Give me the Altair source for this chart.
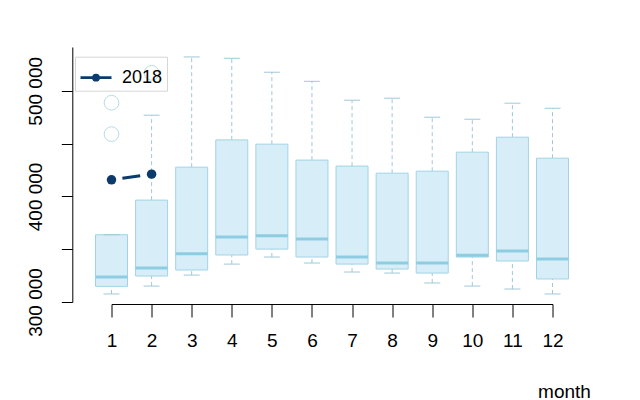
import altair as alt
import pandas as pd

# ---- data ----
months = [1, 2, 3, 4, 5, 6, 7, 8, 9, 10, 11, 12]
whisker_low = [307600, 315100, 325500, 335900, 342600, 336900, 328400, 327400, 318000, 315100, 312300, 307600]
q1 = [314800, 324600, 330300, 344500, 350100, 342600, 335900, 331200, 327400, 342600, 338800, 321800]
median = [323600, 332200, 345700, 361500, 362700, 359600, 342600, 336900, 336900, 344300, 348200, 340700]
q3 = [363700, 396500, 427700, 453500, 449500, 434400, 428700, 422000, 423900, 441900, 456100, 436200]
whisker_high = [363700, 476900, 532100, 530800, 517600, 509000, 491100, 493000, 475000, 473100, 488300, 483500]

outlier_months = [1, 1, 2]
outlier_values = [488700, 459000, 517000]

series_name = "2018"
series_months = [1, 2]
series_values = [415700, 421100]

y_ticks = [300000, 350000, 400000, 450000, 500000]

# ---- styles ----
FONT = "Liberation Sans"
BOX_FILL = "#d7eef8"
BOX_STROKE = "#a2d3e5"
MEDIAN_COLOR = "#8dcde2"
WHISKER = "#a0c8d8"
OUTLIER = "#b9dbe8"
NAVY = "#0c3b6b"

box_df = pd.DataFrame({"month": months, "lo": whisker_low, "q1": q1, "med": median,
                       "q3": q3, "hi": whisker_high})
out_df = pd.DataFrame({"month": outlier_months, "v": outlier_values})
ser_df = pd.DataFrame({"month": series_months, "v": series_values,
                       "series": [series_name] * len(series_months)})

xscale = alt.Scale(domain=[1, 12], nice=False, zero=False, padding=0)
yscale = alt.Scale(domain=[300000, 541500], nice=False, zero=False, padding=0)

xaxis = alt.Axis(values=months, offset=2, tickSize=13, tickColor="black", tickWidth=1,
                 domainColor="black", domainWidth=1, labelFontSize=19, labelPadding=14,
                 labelColor="black", labelFont=FONT, labelFlush=False, labelOverlap=False,
                 format="d", grid=False, title="month", titleFont=FONT, titleFontSize=19,
                 titleFontWeight="normal", titleColor="black", titleX=452.5, titleY=93,
                 titleAlign="center", titleBaseline="alphabetic")

yaxis = alt.Axis(values=y_ticks, offset=39.2, tickSize=11, tickColor="black", tickWidth=1,
                 domainColor="black", domainWidth=1, labelFontSize=19, labelPadding=19.6,
                 labelColor="black", labelFont=FONT, labelFlush=False, labelOverlap=False,
                 labelAngle=270, labelAlign="center", labelBaseline="alphabetic",
                 labelExpr="datum.value % 100000 == 0 ? floor(datum.value / 1000) + ' 000' : ''",
                 grid=False, title="")


def X():
    return alt.X("month:Q", scale=xscale, axis=xaxis)


def Y(field):
    return alt.Y(f"{field}:Q", scale=yscale, axis=yaxis)


base = alt.Chart(box_df)

upper_whisker = base.mark_rule(color=WHISKER, strokeWidth=1, strokeDash=[4, 3]).encode(
    x=X(), y=Y("q3"), y2="hi:Q")
lower_whisker = base.mark_rule(color=WHISKER, strokeWidth=1, strokeDash=[4, 3]).encode(
    x=X(), y=Y("lo"), y2="q1:Q")
boxes = base.mark_bar(size=32, fill=BOX_FILL, stroke=BOX_STROKE, strokeWidth=1).encode(
    x=X(), y=Y("q1"), y2="q3:Q")
medians = base.mark_tick(orient="horizontal", size=32, thickness=3, color=MEDIAN_COLOR,
                         opacity=1).encode(x=X(), y=Y("med"))
cap_hi = base.mark_tick(orient="horizontal", size=16, thickness=1, color=WHISKER,
                        opacity=1).encode(x=X(), y=Y("hi"))
cap_lo = base.mark_tick(orient="horizontal", size=16, thickness=1, color=WHISKER,
                        opacity=1).encode(x=X(), y=Y("lo"))

outliers = alt.Chart(out_df).mark_point(shape="circle", size=216, filled=False,
                                        stroke=OUTLIER, strokeWidth=1, opacity=1).encode(
    x=X(), y=Y("v"))

line = alt.Chart(ser_df).mark_line(color=NAVY, strokeWidth=3,
                                   strokeDash=[0, 11, 18, 100]).encode(x=X(), y=Y("v"))

legend_symbol = "M-1,0L1,0M-0.16,0A0.16,0.16,0,1,1,0.16,0A0.16,0.16,0,1,1,-0.16,0Z"

points = alt.Chart(ser_df).mark_point(shape="circle", size=90, filled=True, opacity=1).encode(
    x=X(), y=Y("v"),
    color=alt.Color("series:N", scale=alt.Scale(domain=[series_name], range=[NAVY]),
                    legend=alt.Legend(orient="none", legendX=-36.5, legendY=9.7, title="",
                                      padding=4, strokeColor="#d6d6d6",
                                      cornerRadius=0, symbolType=legend_symbol,
                                      symbolSize=961, symbolStrokeWidth=2.8,
                                      symbolFillColor=NAVY, symbolStrokeColor=NAVY,
                                      labelFontSize=18, labelFont=FONT, labelColor="black",
                                      labelOffset=9)))

chart = alt.layer(upper_whisker, lower_whisker, boxes, medians, cap_hi, cap_lo,
                  outliers, line, points).properties(
    width=441, height=255,
    autosize=alt.AutoSizeParams(type="none"),
    padding={"left": 103.5, "top": 39, "right": 40, "bottom": 99},
    background="white",
).configure_view(strokeWidth=0)

chart.save("out.html", embed_options={"renderer": "svg", "actions": False})
